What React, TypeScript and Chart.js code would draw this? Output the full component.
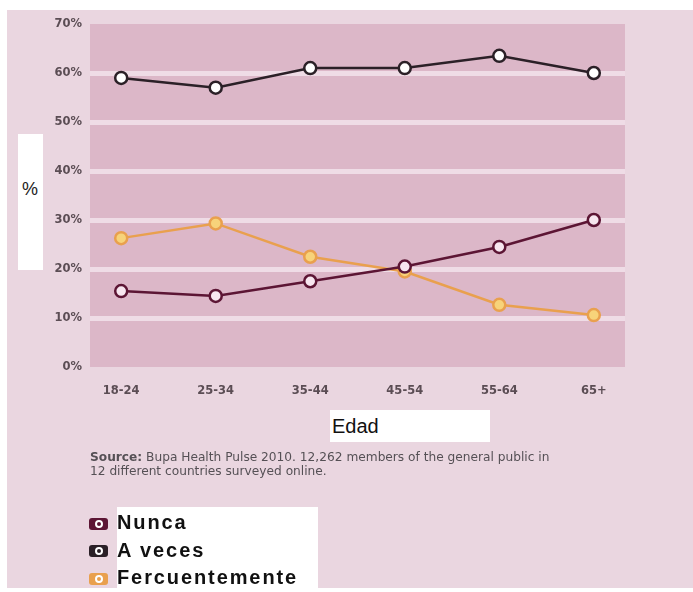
import React, { useEffect, useRef } from "react";
import { Chart, registerables } from "chart.js";

Chart.register(...registerables);

const categories = ["18-24", "25-34", "35-44", "45-54", "55-64", "65+"];
const nunca = [15.5, 14.5, 17.5, 20.5, 24.5, 30];
const aVeces = [59, 57, 61, 61, 63.5, 60];
const frecuente = [26.3, 29.3, 22.5, 19.5, 12.7, 10.6];
const yTicks = [0, 10, 20, 30, 40, 50, 60, 70];

const series = [
  { name: "Nunca", data: nunca, line: "#5c1534", fill: "#f7e6ef" },
  { name: "A veces", data: aVeces, line: "#2b2027", fill: "#ffffff" },
  { name: "Fercuentemente", data: frecuente, line: "#e9a04e", fill: "#f7d37a" },
];

const PANEL = "#ead6e0";
const PLOT_BG = "#dcb7c8";
const GRID = "#efdce6";

const plotBg = {
  id: "plotBg",
  beforeDraw(chart: any) {
    const { ctx, chartArea } = chart;
    if (!chartArea) return;
    ctx.save();
    ctx.fillStyle = PLOT_BG;
    ctx.fillRect(chartArea.left, chartArea.top, chartArea.right - chartArea.left, chartArea.bottom - chartArea.top);
    ctx.restore();
  },
};

export default function App() {
  const ref = useRef<HTMLCanvasElement | null>(null);

  useEffect(() => {
    if (!ref.current) return;
    const chart = new Chart(ref.current, {
      type: "line",
      data: {
        datasets: series.map((s) => ({
          label: s.name,
          data: s.data.map((v, i) => ({ x: i, y: v })),
          borderColor: s.line,
          backgroundColor: s.fill,
          pointBackgroundColor: s.fill,
          pointBorderColor: s.line,
          pointBorderWidth: 2.5,
          pointRadius: 6,
          borderWidth: 2.5,
          tension: 0,
          fill: false,
        })),
      },
      options: {
        animation: false,
        responsive: false,
        maintainAspectRatio: false,
        layout: { padding: { left: 0, top: 24, right: 68, bottom: 592 - 367 - 40 } },
        plugins: { legend: { display: false }, tooltip: { enabled: false } },
        scales: {
          x: {
            type: "linear",
            min: -0.33,
            max: 5.33,
            afterFit: (scale: any) => {
              scale.height = 40;
            },
            afterBuildTicks: (scale: any) => {
              scale.ticks = categories.map((_, i) => ({ value: i }));
            },
            grid: { display: false, drawTicks: false },
            border: { display: false },
            ticks: {
              padding: 17,
              color: "#5b4d54",
              font: { family: "DejaVu Sans", weight: "bold", size: 11.5 },
              callback: (v: any) => categories[v] ?? "",
            },
          },
          y: {
            min: 0,
            max: 70,
            afterFit: (scale: any) => {
              scale.width = 90;
            },
            afterBuildTicks: (scale: any) => {
              scale.ticks = yTicks.map((v) => ({ value: v }));
            },
            grid: {
              drawTicks: false,
              lineWidth: 5,
              color: (c: any) => (c.tick && c.tick.value > 0 && c.tick.value < 70 ? GRID : "rgba(0,0,0,0)"),
            },
            border: { display: false },
            ticks: {
              padding: 8,
              color: "#5b4d54",
              font: { family: "DejaVu Sans", weight: "bold", size: 11.5 },
              callback: (v: any) => v + "%",
            },
          },
        },
      },
      plugins: [plotBg],
    });
    return () => chart.destroy();
  }, []);

  return (
    <div style={{ position: "absolute", left: 0, top: 0, width: 693, height: 592, background: "#ffffff", overflow: "hidden" }}>
      <div style={{ position: "absolute", left: 7, top: 10, width: 686, height: 578, background: PANEL }} />
      <canvas ref={ref} width={693} height={592} style={{ position: "absolute", left: 0, top: 0, width: 693, height: 592 }} />
      <div
        style={{
          position: "absolute",
          left: 18,
          top: 134,
          width: 25,
          height: 136,
          background: "#ffffff",
          fontFamily: "Liberation Sans",
          fontSize: 18,
          color: "#222",
        }}
      >
        <span style={{ position: "absolute", left: 4, top: 45 }}>%</span>
      </div>
      <div
        style={{
          position: "absolute",
          left: 330,
          top: 410,
          width: 160,
          height: 32,
          background: "#ffffff",
          fontFamily: "Liberation Sans",
          fontSize: 20,
          color: "#111",
          lineHeight: "32px",
        }}
      >
        <span style={{ marginLeft: 2 }}>Edad</span>
      </div>
      <div
        style={{
          position: "absolute",
          left: 90,
          top: 450,
          width: 580,
          fontFamily: "DejaVu Sans",
          fontSize: 12.2,
          lineHeight: "14px",
          color: "#555055",
          whiteSpace: "nowrap",
        }}
      >
        <b>Source:</b> Bupa Health Pulse 2010. 12,262 members of the general public in
        <br />
        12 different countries surveyed online.
      </div>
      <div style={{ position: "absolute", left: 117, top: 507, width: 201, height: 81, background: "#ffffff" }} />
      {series.map((s, i) => (
        <div key={s.name} style={{ position: "absolute", left: 89, top: 509 + i * 27.5, height: 26, display: "flex", alignItems: "center" }}>
          <div
            style={{
              width: 19,
              height: 12,
              borderRadius: 3,
              background: s.line,
              display: "flex",
              alignItems: "center",
              justifyContent: "center",
              marginRight: 9,
              marginTop: 3,
            }}
          >
            <div style={{ width: 4, height: 4, borderRadius: 6, border: "2px solid #ffffff", background: s.line }} />
          </div>
          <span
            style={{
              fontFamily: "Liberation Sans",
              fontWeight: "bold",
              fontSize: 20,
              letterSpacing: "1.9px",
              color: "#111",
              lineHeight: "26px",
            }}
          >
            {s.name}
          </span>
        </div>
      ))}
    </div>
  );
}
